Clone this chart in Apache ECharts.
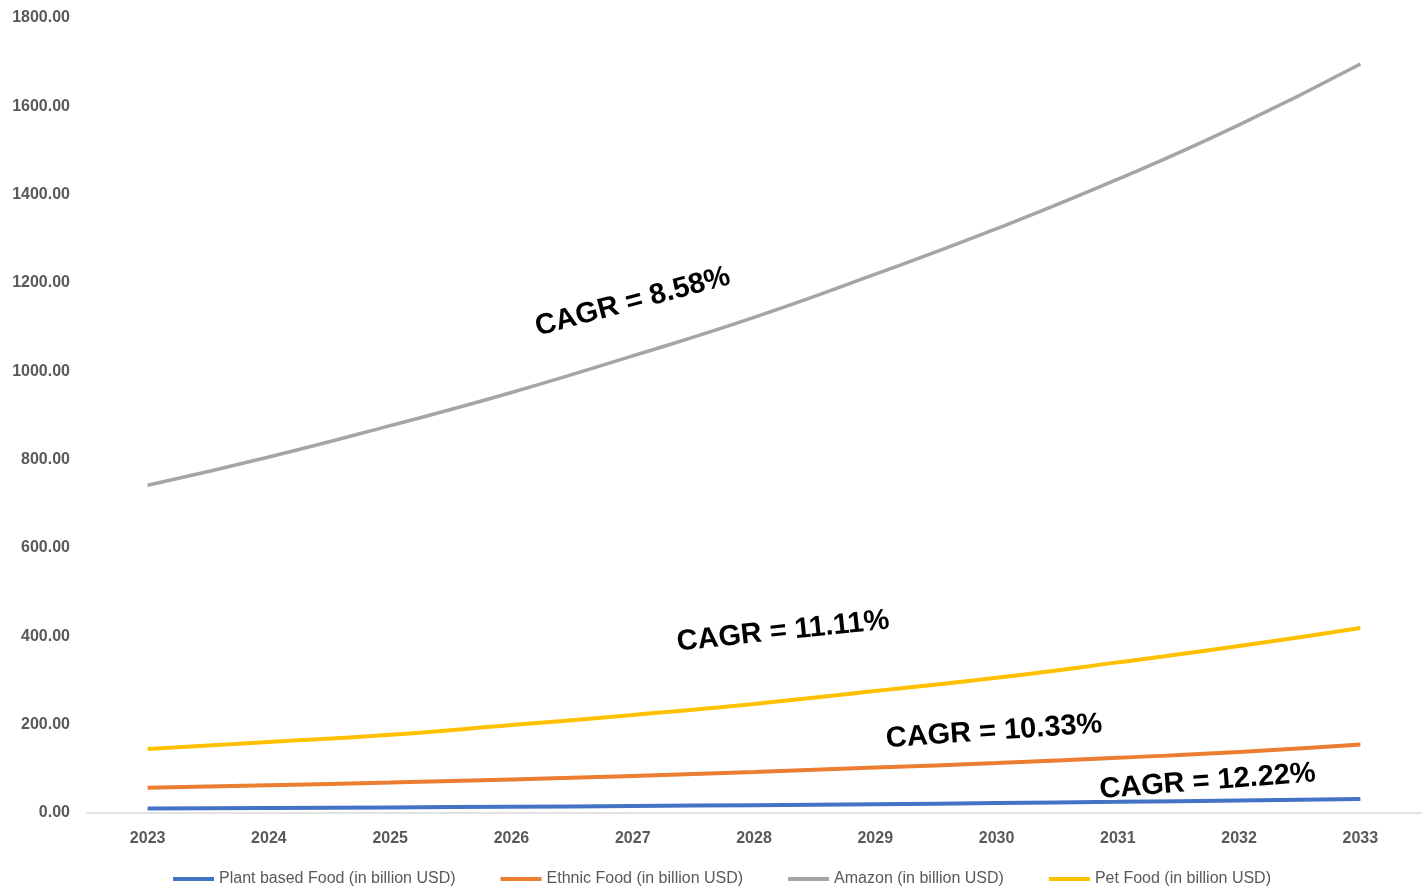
<!DOCTYPE html>
<html>
<head>
<meta charset="utf-8">
<script src="https://cdn.jsdelivr.net/npm/echarts@6/dist/echarts.min.js"></script>
<style>
  html, body { margin: 0; padding: 0; background: #fff; }
  #main { width: 1427px; height: 888px; }
</style>
</head>
<body>
<div id="main"></div>
<script>
// categories
const years = ['2023', '2024', '2025', '2026', '2027', '2028', '2029', '2030', '2031', '2032', '2033'];

// series values (billion USD)
const plantBased = [10, 11.2, 12.6, 14.1, 15.9, 17.8, 20.0, 22.5, 25.2, 28.3, 31.7];
const ethnicFood = [57, 63, 69, 76, 84, 93, 103, 113, 125, 138, 155];
const amazon = [742, 806, 877, 952, 1035, 1122, 1220, 1323, 1435, 1558, 1696];
const petFood = [145, 161, 177, 199, 222, 247, 276, 306, 341, 378, 419];

const seriesNames = [
  'Plant based Food (in billion USD)',
  'Ethnic Food (in billion USD)',
  'Amazon (in billion USD)',
  'Pet Food (in billion USD)'
];
const seriesColors = ['#4472C4', '#ED7D31', '#A5A5A5', '#FFC000'];

// CAGR labels: text, category position (fractional index), value, rotation (deg)
const noteTexts = ['CAGR = 8.58%', 'CAGR = 11.11%', 'CAGR = 10.33%', 'CAGR = 12.22%'];
const noteX = [4.0, 5.24, 6.98, 8.74];
const noteY = [1157, 411, 184, 71];
const noteRot = [15, 6, 4, 4.5];

let myChart = echarts.init(document.getElementById('main'));

const allData = [plantBased, ethnicFood, amazon, petFood];

myChart.setOption({
  animation: false,
  color: seriesColors,
  grid: { left: 87, right: 6, top: 18, bottom: 75 },
  legend: {
    top: 866,
    left: 168,
    icon: 'rect',
    itemWidth: 41,
    itemHeight: 4,
    itemGap: 45,
    textStyle: { color: '#595959', fontSize: 16, fontFamily: 'Liberation Sans, sans-serif' },
    data: seriesNames
  },
  xAxis: {
    type: 'category',
    data: years,
    boundaryGap: true,
    axisLine: { lineStyle: { color: '#D9D9D9', width: 1.5 } },
    axisTick: { show: false },
    axisLabel: { color: '#595959', fontWeight: 'bold', fontSize: 16, margin: 18, fontFamily: 'Liberation Sans, sans-serif' }
  },
  yAxis: {
    type: 'value',
    min: 0,
    max: 1800,
    interval: 200,
    splitLine: { show: false },
    axisLine: { show: false },
    axisTick: { show: false },
    axisLabel: {
      color: '#595959', fontWeight: 'bold', fontSize: 16, margin: 17,
      fontFamily: 'Liberation Sans, sans-serif',
      formatter: v => v.toFixed(2)
    }
  },
  series: allData.map((d, i) => ({
    name: seriesNames[i],
    type: 'line',
    data: d,
    smooth: true,
    showSymbol: false,
    lineStyle: { width: i === 2 ? 3.5 : 4, color: seriesColors[i] },
    z: i === 0 ? 5 : 2
  }))
});

// place the CAGR notes through the grid's own coordinates
// (category axis snaps to whole indices, so interpolate between neighbours)
const notes = noteTexts.map((t, i) => {
  const lo = Math.floor(noteX[i]);
  const hi = Math.min(lo + 1, years.length - 1);
  const pLo = myChart.convertToPixel('grid', [lo, noteY[i]]);
  const pHi = myChart.convertToPixel('grid', [hi, noteY[i]]);
  const f = noteX[i] - lo;
  return {
    type: 'text',
    x: pLo[0] + (pHi[0] - pLo[0]) * f,
    y: pLo[1],
    rotation: noteRot[i] * Math.PI / 180,
    style: {
      text: t,
      fill: '#000',
      font: 'bold 29px "Liberation Sans", Arial, sans-serif',
      textAlign: 'center',
      textVerticalAlign: 'middle'
    },
    z: 10
  };
});
myChart.setOption({ graphic: notes });
</script>
</body>
</html>
